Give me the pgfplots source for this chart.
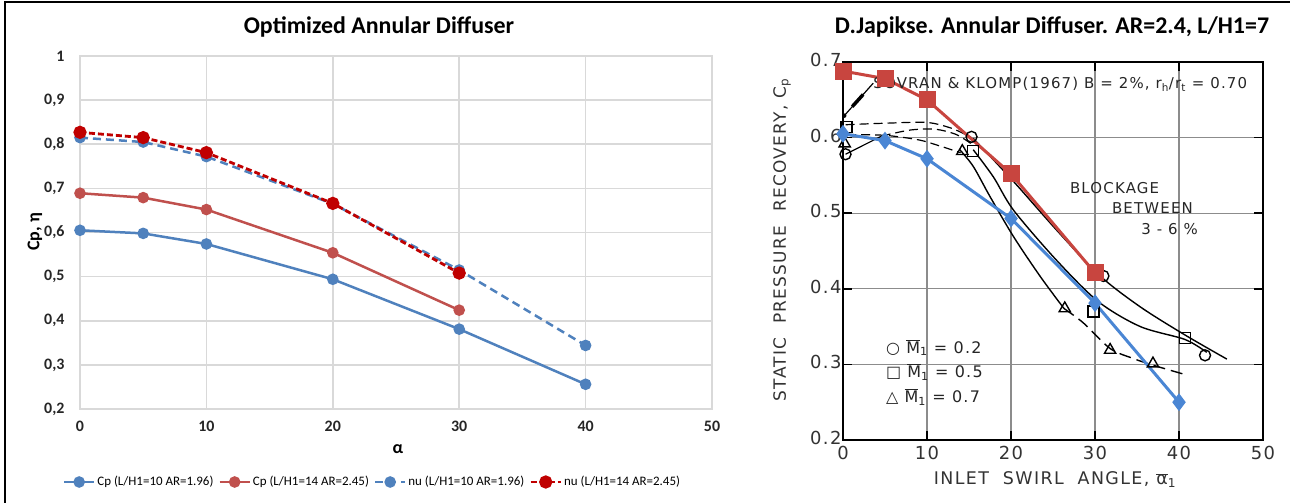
\documentclass[border=0pt]{standalone}
\usepackage{pgfplots}
\pgfplotsset{compat=1.18}
\usepackage{fontspec}
\setmainfont{Carlito}
\newfontfamily\leroy[LetterSpace=8]{DejaVu Sans}
\definecolor{xlblue}{HTML}{4F81BD}
\definecolor{xlred}{HTML}{C0504D}
\definecolor{xldred}{HTML}{C00000}
\definecolor{jred}{HTML}{C8453F}
\definecolor{jblue}{HTML}{4A86D4}
\begin{document}
\begin{tikzpicture}
\useasboundingbox (0,0) rectangle (1290bp,503bp);
\fill[white] (0,0) rectangle (1290bp,503bp);
\draw[black, line width=2.2bp] (5bp,0) -- (5bp,501bp) -- (1290bp,501bp);
% ---------------- left chart ----------------
\begin{axis}[
  at={(80bp,94bp)}, anchor=south west, scale only axis,
  width=632bp, height=353bp,
  xmin=0, xmax=50, ymin=0.2, ymax=1,
  xtick={0,10,...,50}, ytick={0.2,0.3,...,1.01},
  grid=major, grid style={draw=black!15, line width=1.6bp},
  axis line style={draw=black!15, line width=1.6bp},
  tick style={draw=none},
  ticklabel style={font=\bfseries\fontsize{16}{16}\selectfont, text=black!85},
  xticklabel style={yshift=-9bp},
  yticklabel style={xshift=-12bp},
  /pgf/number format/.cd, use comma, fixed, precision=1, assume math mode=true,
  /pgfplots/.cd,
  legend columns=4,
  legend style={at={(0.4628,-0.2068)}, anchor=center, draw=none, fill=none,
    font=\fontsize{13}{13}\selectfont, /tikz/every even column/.append style={column sep=3bp}},
  legend image code/.code={\draw[#1, mark repeat=2, mark phase=2] plot coordinates {(0bp,0bp) (15bp,0bp) (30bp,0bp)};},
]
\addplot[xlblue, line width=2.5bp, mark=*, mark size=4.5bp, mark options={solid, fill=xlblue}]
  coordinates {(0,0.605)(5,0.598)(10,0.574)(20,0.494)(30,0.381)(40,0.256)};
\addlegendentry{Cp (L/H1=10 AR=1.96)}
\addplot[xlred, line width=2.5bp, mark=*, mark size=4.5bp, mark options={solid, fill=xlred}]
  coordinates {(0,0.689)(5,0.679)(10,0.652)(20,0.554)(30,0.424)};
\addlegendentry{Cp (L/H1=14 AR=2.45)}
\addplot[xlblue, line width=2.5bp, dash pattern=on 8bp off 5bp, mark=*, mark size=4.5bp, mark options={solid, fill=xlblue}]
  coordinates {(0,0.815)(5,0.805)(10,0.772)(20,0.665)(30,0.515)(40,0.344)};
\addlegendentry{nu (L/H1=10 AR=1.96)}
\addplot[xldred, line width=2.8bp, dash pattern=on 6bp off 3bp, mark=*, mark size=5.2bp, mark options={solid, fill=xldred}]
  coordinates {(0,0.827)(5,0.815)(10,0.781)(20,0.666)(30,0.508)};
\addlegendentry{nu (L/H1=14 AR=2.45)}
\end{axis}
\node[font=\bfseries\fontsize{24}{24}\selectfont] at (379bp,476bp) {Optimized Annular Diffuser};
\node[font=\bfseries\fontsize{18}{18}\selectfont, rotate=90] at (35bp,271bp) {Cp, η};
\node[font=\bfseries\fontsize{18}{18}\selectfont] at (398bp,54bp) {α};
% ---------------- right chart ----------------
\begin{axis}[
  at={(843bp,63bp)}, anchor=south west, scale only axis,
  width=420bp, height=378bp,
  xmin=0, xmax=50, ymin=0.2, ymax=0.7,
  xtick={0,10,...,50}, ytick={0.2,0.3,...,0.71},
  grid=major, grid style={draw=black!45, line width=1.2bp},
  axis line style={draw=black, line width=2.4bp},
  tick align=inside, major tick length=9bp,
  tick style={draw=black, line width=1.6bp},
  ticklabel style={font=\leroy\fontsize{18}{18}\selectfont, text=black!80},
  xticklabel style={yshift=-3bp},
  yticklabel style={xshift=2bp, yshift=2bp},
  /pgf/number format/.cd, fixed, precision=1, assume math mode=true,
  /pgfplots/.cd, clip=false,
]
% scanned curves
\addplot[black, line width=1.2bp, dash pattern=on 9bp off 5bp, smooth]
  coordinates {(0.3,0.617)(5,0.619)(10,0.620)(13,0.612)(15.3,0.600)};
\addplot[black, line width=1.2bp] coordinates {(0.3,0.578)(4.6,0.602)};
\addplot[black, line width=1.2bp, dash pattern=on 9bp off 5bp, smooth]
  coordinates {(4.6,0.602)(8,0.610)(11,0.611)(13.5,0.604)(15.5,0.590)};
\addplot[black, line width=1.2bp, dash pattern=on 9bp off 5bp, smooth]
  coordinates {(0.5,0.604)(5,0.603)(9,0.597)(11.5,0.589)(14,0.580)};
\addplot[black, line width=1.4bp, smooth]
  coordinates {(15.5,0.599)(20.3,0.542)(25.4,0.478)(30.5,0.418)(35.4,0.376)(40.7,0.339)(45.7,0.307)};
\addplot[black, line width=1.4bp, smooth]
  coordinates {(15.5,0.584)(17.9,0.548)(20.3,0.504)(25.4,0.438)(30.4,0.383)(35.4,0.350)(40.7,0.333)(43.3,0.316)};
\addplot[black, line width=1.4bp, smooth]
  coordinates {(13.9,0.584)(15.5,0.562)(17.5,0.522)(20.3,0.469)(23.5,0.416)(26.3,0.374)};
\addplot[black, line width=1.4bp, dash pattern=on 12bp off 6bp, smooth]
  coordinates {(26.3,0.374)(28.6,0.355)(31.8,0.321)(34.5,0.308)(36.9,0.299)(40.9,0.286)};
\addplot[only marks, mark=o, mark size=5.5bp, mark options={black, line width=1.4bp, fill=white}]
  coordinates {(0.3,0.578)(15.3,0.601)(31,0.417)(43.1,0.312)};
\addplot[only marks, mark=square, mark size=5.5bp, mark options={black, line width=1.4bp, fill=white}]
  coordinates {(0.4,0.614)(15.5,0.582)(29.8,0.370)(40.7,0.335)};
\addplot[only marks, mark=triangle, mark size=6.5bp, mark options={black, line width=1.4bp, fill=white}]
  coordinates {(0.2,0.592)(14.2,0.582)(26.4,0.374)(31.8,0.319)(36.9,0.301)};
\draw[black, line width=1.2bp] (axis cs:3.6,0.672) -- (axis cs:0.15,0.629);
\draw[black, line width=3.5bp] (axis cs:2.4,0.657) -- (axis cs:1.1,0.641);
\fill[black] (axis cs:0.15,0.629) circle (2.2bp);
% overlay
\addplot[jred, line width=3bp, mark=square*, mark size=7bp, mark options={fill=jred}]
  coordinates {(0,0.688)(5,0.678)(10,0.650)(20,0.552)(30,0.421)};
\addplot[jblue, line width=3bp, mark=diamond*, mark size=6.5bp, mark options={fill=jblue}]
  coordinates {(0,0.605)(5,0.596)(10,0.572)(20,0.493)(30,0.381)(40,0.250)};
% annotations
\node[anchor=west, font=\leroy\fontsize{15}{15}\selectfont, text=black!85, inner sep=0]
  at (axis cs:3.6,0.670) {SOVRAN \& KLOMP(1967) B = 2\%, r\textsubscript{h}/r\textsubscript{t} = 0.70};
\node[anchor=west, font=\leroy\fontsize{15}{15}\selectfont, text=black!85, inner sep=0] at (axis cs:27.0,0.533) {BLOCKAGE};
\node[anchor=west, font=\leroy\fontsize{15}{15}\selectfont, text=black!85, inner sep=0] at (axis cs:32.0,0.507) {BETWEEN};
\node[anchor=west, font=\leroy\fontsize{15}{15}\selectfont, text=black!85, inner sep=0] at (axis cs:35.5,0.479) {3 - 6 \%};
\node[anchor=west, font=\leroy\fontsize{16}{16}\selectfont, text=black!85, inner sep=0] at (axis cs:5.1,0.322) {○ $\overline{\mbox{M}}$\textsubscript{1} = 0.2};
\node[anchor=west, font=\leroy\fontsize{16}{16}\selectfont, text=black!85, inner sep=0] at (axis cs:5.1,0.290) {□ $\overline{\mbox{M}}$\textsubscript{1} = 0.5};
\node[anchor=west, font=\leroy\fontsize{16}{16}\selectfont, text=black!85, inner sep=0] at (axis cs:5.1,0.257) {△ $\overline{\mbox{M}}$\textsubscript{1} = 0.7};
\end{axis}
\node[font=\bfseries\fontsize{24}{24}\selectfont] at (1052bp,476bp) {D.Japikse. Annular Diffuser. AR=2.4, L/H1=7};
\node[font=\leroy\fontsize{17}{17}\selectfont, text=black!80, rotate=90] at (782bp,263bp) {STATIC\ \ PRESSURE\ \ RECOVERY, C\textsubscript{p}};
\node[font=\leroy\fontsize{17.5}{17.5}\selectfont, text=black!80] at (1055bp,23bp) {INLET\ \ SWIRL\ \ ANGLE, $\overline{\mbox{α}}$\textsubscript{1}};
\end{tikzpicture}
\end{document}
